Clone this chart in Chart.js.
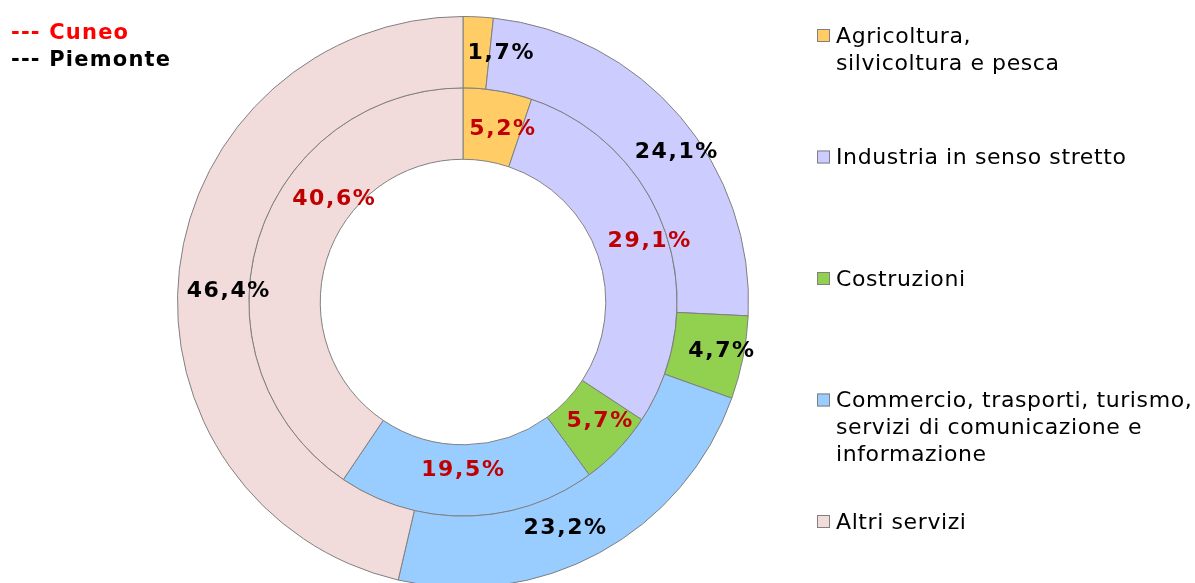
<!DOCTYPE html>
<html>
<head>
<meta charset="utf-8">
<script src="https://cdn.jsdelivr.net/npm/chart.js@4"></script>
<style>
  html, body { margin: 0; padding: 0; background: #fff; overflow: hidden; }
  #wrap { position: relative; width: 1195px; height: 600px; }
</style>
</head>
<body>
<div id="wrap"><canvas id="sectorChart" width="1195" height="600"></canvas></div>
<script>
const sectors = [
  ['Agricoltura,', 'silvicoltura e pesca'],
  ['Industria in senso stretto'],
  ['Costruzioni'],
  ['Commercio, trasporti, turismo,', 'servizi di comunicazione e', 'informazione'],
  ['Altri servizi']
];
const piemonteValues = [1.7, 24.1, 4.7, 23.2, 46.4];
const cuneoValues = [5.2, 29.1, 5.7, 19.5, 40.6];
const seriesNames = ['--- Cuneo', '--- Piemonte'];

const sectorColors = ['#FFCC66', '#CCCCFF', '#92D050', '#99CCFF', '#F2DCDB'];
// nudges of the value labels away from the slice centre, like the original
const outerNudge = [[24, 1], [23, 13], [13, 1], [-18, 7], [13, 18]];
const innerNudge = [[10, 3], [17, -3], [7, -4], [-4, -10], [41, -51]];

const fmt = v => v.toFixed(1).replace('.', ',') + '%';

const valueLabels = {
  id: 'valueLabels',
  afterDatasetsDraw(chart) {
    const ctx = chart.ctx;
    ctx.save();
    ctx.font = 'bold 22px "DejaVu Sans"';
    ctx.letterSpacing = '1.6px';
    ctx.textAlign = 'center';
    ctx.textBaseline = 'middle';
    chart.data.datasets.forEach((ds, di) => {
      const nudge = di === 0 ? outerNudge : innerNudge;
      ctx.fillStyle = di === 0 ? '#000000' : '#C00000';
      chart.getDatasetMeta(di).data.forEach((arc, i) => {
        const p = arc.tooltipPosition();
        ctx.fillText(fmt(ds.data[i]), p.x + nudge[i][0] + 1, p.y + nudge[i][1]);
      });
    });
    ctx.restore();
  }
};

const sideTexts = {
  id: 'sideTexts',
  afterDraw(chart) {
    const ctx = chart.ctx;
    ctx.save();
    ctx.textBaseline = 'middle';
    ctx.textAlign = 'left';
    // series key, top left
    ctx.font = 'bold 21px "DejaVu Sans"';
    ctx.letterSpacing = '1.2px';
    ctx.fillStyle = '#FF0000';
    ctx.fillText(seriesNames[0], 11, 34);
    ctx.fillStyle = '#000000';
    ctx.fillText(seriesNames[1], 11, 61);
    // sector legend, right
    ctx.font = '22px "DejaVu Sans"';
    ctx.letterSpacing = '0.6px';
    chart.data.labels.forEach((lines, i) => {
      const y = 36 + i * 121.5;
      ctx.fillStyle = sectorColors[i];
      ctx.fillRect(817, y - 7, 13, 13);
      ctx.strokeStyle = '#808080';
      ctx.lineWidth = 1;
      ctx.strokeRect(817.5, y - 6.5, 12, 12);
      ctx.fillStyle = '#000000';
      lines.forEach((t, k) => ctx.fillText(t, 836, y + 1 + k * 27));
    });
    ctx.restore();
  }
};

new Chart(document.getElementById('sectorChart').getContext('2d'), {
  type: 'doughnut',
  data: {
    labels: sectors,
    datasets: [{
      label: 'Piemonte',
      data: piemonteValues,
      backgroundColor: sectorColors,
      borderColor: '#808080',
      borderWidth: 1
    }, {
      label: 'Cuneo',
      data: cuneoValues,
      backgroundColor: sectorColors,
      borderColor: '#808080',
      borderWidth: 1
    }]
  },
  options: {
    responsive: false,
    animation: false,
    cutout: '50%',
    layout: { padding: { left: 177, right: 446, top: 16, bottom: 12 } },
    plugins: {
      legend: { display: false },
      tooltip: { enabled: false }
    }
  },
  plugins: [valueLabels, sideTexts]
});
</script>
</body>
</html>
